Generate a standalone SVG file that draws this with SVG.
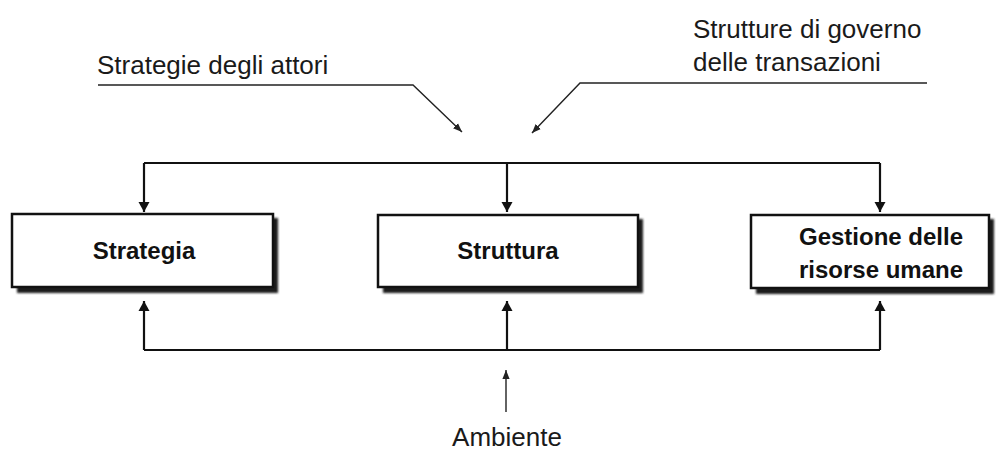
<svg xmlns="http://www.w3.org/2000/svg" width="1003" height="450" viewBox="0 0 1003 450">
  <style>
    .label { font-family: "Liberation Sans", Arial, sans-serif; font-size: 26px; fill: #1a1a1a; }
    .title { font-family: "Liberation Sans", Arial, sans-serif; font-size: 24px; font-weight: bold; fill: #111; text-anchor: middle; }
    .box { fill: #fff; stroke: #111; stroke-width: 2.5; }
    .shadow { fill: #1a1a1a; }
    .main { fill: none; stroke: #111; stroke-width: 2.2; }
    .thin { fill: none; stroke: #222; stroke-width: 1.4; }
  </style>
  <defs>
    <marker id="head" viewBox="0 0 10 14" refX="10" refY="7" markerWidth="10" markerHeight="14" markerUnits="userSpaceOnUse" orient="auto">
      <path d="M0,1.5 L10,7 L0,12.5 Z" fill="#111"/>
    </marker>
    <marker id="headSmall" viewBox="0 0 10 10" refX="10" refY="5" markerWidth="9" markerHeight="9" markerUnits="userSpaceOnUse" orient="auto">
      <path d="M0,1 L10,5 L0,9 Z" fill="#222"/>
    </marker>
    <filter id="soft" x="-5%" y="-5%" width="110%" height="120%">
      <feGaussianBlur stdDeviation="0.8"/>
    </filter>
  </defs>
  <rect width="1003" height="450" fill="#fff"/>

  <!-- external influences -->
  <g id="strategie-attori">
    <text class="label" x="97" y="74">Strategie degli attori</text>
  </g>
  <g id="strutture-governo">
    <text class="label" x="693" y="38">Strutture di governo</text>
    <text class="label" x="693" y="71">delle transazioni</text>
  </g>
  <g id="ambiente">
    <text class="label" x="507" y="446" text-anchor="middle">Ambiente</text>
  </g>

  <!-- connectors -->
  <g id="connectors">
    <path class="thin" d="M98,85 H413 L462,132" marker-end="url(#headSmall)"/>
    <path class="thin" d="M927,83 H580 L532,133" marker-end="url(#headSmall)"/>
    <path class="main" d="M144,163 H880"/>
    <path class="main" d="M144,163 V212" marker-end="url(#head)"/>
    <path class="main" d="M507,163 V212" marker-end="url(#head)"/>
    <path class="main" d="M880,163 V212" marker-end="url(#head)"/>
    <path class="main" d="M144,350 H880"/>
    <path class="main" d="M144,350 V301" marker-end="url(#head)"/>
    <path class="main" d="M507,350 V301" marker-end="url(#head)"/>
    <path class="main" d="M880,350 V301" marker-end="url(#head)"/>
    <path class="thin" d="M506,412 V370" marker-end="url(#headSmall)"/>
  </g>

  <!-- nodes -->
  <g id="strategia">
    <rect class="shadow" x="17" y="218" width="261" height="75" filter="url(#soft)"/>
    <rect class="box" x="12" y="214" width="261" height="73"/>
    <text class="title" x="144" y="259">Strategia</text>
  </g>
  <g id="struttura">
    <rect class="shadow" x="383" y="219" width="260" height="74" filter="url(#soft)"/>
    <rect class="box" x="378" y="215" width="260" height="72"/>
    <text class="title" x="508" y="259">Struttura</text>
  </g>
  <g id="gestione">
    <rect class="shadow" x="756" y="219" width="238" height="75" filter="url(#soft)"/>
    <rect class="box" x="751" y="215" width="238" height="73"/>
    <text class="title" x="881" y="245">Gestione delle</text>
    <text class="title" x="881" y="278">risorse umane</text>
  </g>
</svg>
